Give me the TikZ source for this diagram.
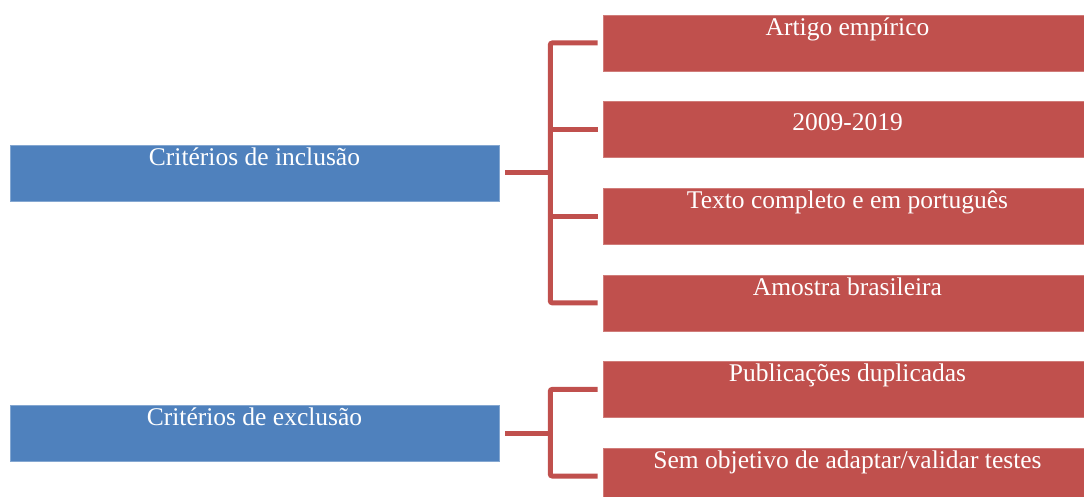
\documentclass[tikz,border=0pt]{standalone}
\usepackage{fontspec}
\setmainfont{Liberation Serif}
\usetikzlibrary{calc}
\definecolor{boxblue}{HTML}{4F81BD}
\definecolor{boxred}{HTML}{C0504D}
\tikzset{
  bluebox/.style={fill=boxblue, draw=boxblue!70!white, line width=0.6pt, minimum width=489pt, minimum height=56pt, inner sep=0pt},
  redbox/.style={fill=boxred, draw=boxred!75!white, line width=0.6pt, minimum width=489pt, minimum height=56pt, inner sep=0pt},
  conn/.style={draw=boxred, line width=5pt, rounded corners=2pt},
  labelfont/.style={anchor=base, text=white, font=\fontsize{25.5}{30}\selectfont, inner sep=0pt},
  boxtext/.style={label={[label distance=-20.5pt, labelfont]north:#1}},
  boxtextlow/.style={label={[label distance=-29pt, labelfont]north:#1}}
}
\begin{document}
\begin{tikzpicture}[x=1pt,y=-1pt]
\useasboundingbox (0,0) rectangle (1084,497);
\clip (0,0) rectangle (1084,497);
\node[bluebox, boxtext={Critérios de inclusão}] (inc) at (254.5,173) {};
\node[bluebox, boxtext={Critérios de exclusão}] (exc) at (254.5,433) {};
\node[redbox, boxtext={Artigo empírico}] (a1) at (847.5,43) {};
\node[redbox, boxtextlow={2009-2019}] (a2) at (847.5,129.6) {};
\node[redbox, boxtext={Texto completo e em português}] (a3) at (847.5,216.2) {};
\node[redbox, boxtext={Amostra brasileira}] (a4) at (847.5,302.8) {};
\node[redbox, boxtext={Publicações duplicadas}] (a5) at (847.5,389.4) {};
\node[redbox, boxtext={Sem objetivo de adaptar/validar testes}] (a6) at (847.5,476) {};
\coordinate (ti) at ($(inc.east)+(51,0)$);
\coordinate (te) at ($(exc.east)+(51,0)$);
\draw[conn] ([xshift=-5pt]a1.west) -| (ti) |- ([xshift=-5pt]a4.west);
\draw[conn] ([xshift=6pt]inc.east) -- (ti);
\draw[conn] (ti |- a2.west) -- ([xshift=-5pt]a2.west);
\draw[conn] (ti |- a3.west) -- ([xshift=-5pt]a3.west);
\draw[conn] ([xshift=-5pt]a5.west) -| (te) |- ([xshift=-5pt]a6.west);
\draw[conn] ([xshift=6pt]exc.east) -- (te);
\end{tikzpicture}
\end{document}
